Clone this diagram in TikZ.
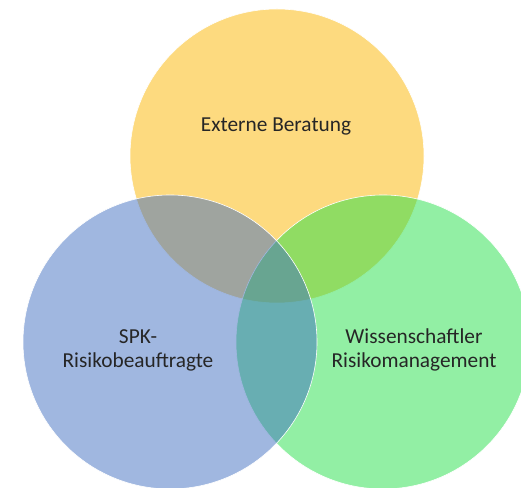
\documentclass[tikz,border=0pt]{standalone}
\usepackage{fontspec}
\setmainfont{Carlito}
\definecolor{beratgelb}{RGB}{251,181,0}
\definecolor{spkblau}{RGB}{65,111,193}
\definecolor{wissgruen}{RGB}{37,223,73}
\tikzset{kreis/.style={draw=white, line width=0.6pt, fill opacity=0.5},
  beschrift/.style={align=center, text=black!85, font=\fontsize{21.4}{24}\selectfont}}
\begin{document}
\begin{tikzpicture}[x=1bp,y=1bp]
\useasboundingbox (0,0) rectangle (521,488);
\draw[kreis, fill=beratgelb] (277,332) circle[radius=147];
\draw[kreis, fill=wissgruen] (383,146) circle[radius=147];
\draw[kreis, fill=spkblau] (170,146) circle[radius=147];
\node[beschrift] (berat) at (276,361) {Externe Beratung};
\node[beschrift] (spk) at (138,138) {SPK-\\Risikobeauftragte};
\node[beschrift] (wiss) at (414,138) {Wissenschaftler\\Risikomanagement};
\end{tikzpicture}
\end{document}
